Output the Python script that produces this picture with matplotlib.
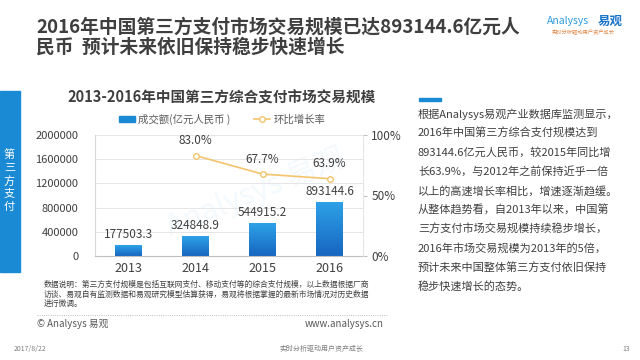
import numpy as np
import matplotlib
matplotlib.use("Agg")
import matplotlib.pyplot as plt
from matplotlib.patches import Rectangle, Patch
from matplotlib.lines import Line2D
from matplotlib.colors import LinearSegmentedColormap

plt.rcParams['font.family'] = ['Noto Sans CJK SC', 'DejaVu Sans']

# data
years = ['2013', '2014', '2015', '2016']
volume = [177503.3, 324848.9, 544915.2, 893144.6]      # 亿元人民币
growth = [None, 83.0, 67.7, 63.9]                      # %
left_ticks = [0, 400000, 800000, 1200000, 1600000, 2000000]
right_ticks = [0, 50, 100]

title_lines = ['2016年中国第三方支付市场交易规模已达893144.6亿元人',
               '民币  预计未来依旧保持稳步快速增长']
chart_title = '2013-2016年中国第三方综合支付市场交易规模'
legend_labels = ['成交额(亿元人民币 )', '环比增长率']
note_lines = ['数据说明：第三方支付规模是包括互联网支付、移动支付等的综合支付规模，以上数据根据厂商',
              '访谈、易观自有监测数据和易观研究模型估算获得，易观将根据掌握的最新市场情况对历史数据',
              '进行微调。']
side_text = ['根据Analysys易观产业数据库监测显示，',
             '2016年中国第三方综合支付规模达到',
             '893144.6亿元人民币，较2015年同比增',
             '长63.9%，与2012年之前保持近乎一倍',
             '以上的高速增长率相比，增速逐渐趋缓。',
             '从整体趋势看，自2013年以来，中国第',
             '三方支付市场交易规模持续稳步增长，',
             '2016年市场交易规模为2013年的5倍，',
             '预计未来中国整体第三方支付依旧保持',
             '稳步快速增长的态势。']
side_tab = '第三方支付'

W, H = 640, 360
BLUE = '#1a8ad4'
ORANGE = '#f3c46c'
DARK = '#404040'


def px(x, y):
    return x / W, 1 - y / H


fig = plt.figure(figsize=(6.4, 3.6), dpi=100)
fig.patch.set_facecolor('white')

# page title
for i, t in enumerate(title_lines):
    fig.text(*px(36, 27 + i * 20), t, fontsize=13.5, fontweight='bold',
             color='#3f3f3f', va='center', ha='left')

# logo
fig.text(*px(547, 21), 'Analysys', fontsize=7.5, color='#2b9be0',
         style='italic', va='center')
fig.text(*px(598, 21), '易观', fontsize=9, color='#1a74c8',
         fontweight='bold', va='center')
fig.text(*px(552, 31), '实时分析驱动用户资产成长', fontsize=3.8,
         color='#e0884a', va='center')

# left tab
fig.patches.append(Rectangle(px(0, 272), 20 / W, 181 / H,
                             transform=fig.transFigure, color=BLUE, zorder=0))
for i, ch in enumerate(side_tab):
    fig.text(*px(9.5, 155 + i * 13), ch, fontsize=8, color='white',
             ha='center', va='center')

# chart
ax = fig.add_axes([95 / W, 1 - 256 / H, 268 / W, 121 / H])
x = np.arange(len(years))
bars = ax.bar(x, volume, width=0.4, color=BLUE, zorder=2)
cmap = LinearSegmentedColormap.from_list('g', ['#1766c0', '#2ea2e8'])
grad = np.linspace(0, 1, 100).reshape(-1, 1)
for b in bars:
    bx, by = b.get_x(), b.get_y()
    im = ax.imshow(grad, extent=[bx, bx + b.get_width(), by, by + b.get_height()],
                   origin='lower', aspect='auto', cmap=cmap, zorder=2)
    im.set_clip_path(b)
ax.set_xlim(-0.5, len(years) - 0.5)
ax.set_ylim(0, 2000000)
ax.set_yticks(left_ticks)
ax.set_yticklabels([str(v) for v in left_ticks])
ax.set_xticks(x)
ax.set_xticklabels(years)
ax.tick_params(axis='y', length=0, labelsize=8, labelcolor=DARK, pad=12)
ax.tick_params(axis='x', length=0, labelsize=9, labelcolor=DARK, pad=4)
ax.grid(axis='y', color='#e6e6e6', lw=0.7, zorder=0)
for s in ['top', 'right']:
    ax.spines[s].set_visible(False)
ax.spines['left'].set_color('#d9d9d9')
ax.spines['bottom'].set_color('#bfbfbf')
for xi, v in zip(x, volume):
    ax.annotate(f'{v:.1f}', (xi, v), xytext=(0, 3), textcoords='offset points',
                ha='center', va='bottom', fontsize=8.5, color=DARK)

# faint watermark
ax.text(1.9, 1050000, 'Analysys 易观', fontsize=22, color='#2b9be0', alpha=0.06,
        rotation=22, ha='center', va='center', zorder=1)

ax2 = ax.twinx()
ax2.set_ylim(0, 100)
ax2.set_yticks(right_ticks)
ax2.set_yticklabels([f'{v}%' for v in right_ticks])
ax2.tick_params(axis='y', length=3, color='#bfbfbf', labelsize=8.5,
                labelcolor=DARK, pad=3)
for s in ['top', 'left', 'bottom']:
    ax2.spines[s].set_visible(False)
ax2.spines['right'].set_color('#e6e6e6')
gx = [xi for xi, g in zip(x, growth) if g is not None]
gy = [g for g in growth if g is not None]
ax2.plot(gx, gy, color=ORANGE, lw=1.2, marker='o', markersize=4,
         mfc='white', mec=ORANGE, mew=1, zorder=3)
for xi, g in zip(gx, gy):
    ax2.annotate(f'{g:.1f}%', (xi, g), xytext=(0, 6), textcoords='offset points',
                 ha='center', va='bottom', fontsize=8.5, color=DARK)

# chart title and legend
fig.text(*px(222, 97.5), chart_title, fontsize=10.5, fontweight='bold',
         color='#3f3f3f', ha='center', va='center')
handles = [Patch(color=BLUE),
           Line2D([], [], color=ORANGE, lw=1.2, marker='o', markersize=4,
                  mfc='white', mec=ORANGE)]
fig.legend(handles, legend_labels, loc='center', bbox_to_anchor=px(222, 119),
           ncol=2, frameon=False, fontsize=7.5, handlelength=1.6,
           handleheight=0.5, handletextpad=0.3, columnspacing=2.2,
           labelcolor='#595959')

# notes
for i, t in enumerate(note_lines):
    fig.text(*px(44, 285 + i * 9.5), t, fontsize=5.6, color=DARK, va='center')
fig.add_artist(Line2D([37 / W, 388 / W], [1 - 315 / H] * 2, color='#aaaaaa',
                      lw=0.6, ls=':'))
fig.text(*px(37, 324), '© Analysys 易观', fontsize=7, color='#595959', va='center')
fig.text(*px(384, 324), 'www.analysys.cn', fontsize=7, color='#595959',
         va='center', ha='right')

# side text
fig.patches.append(Rectangle(px(419, 100.5), 22 / W, 3 / H,
                             transform=fig.transFigure, color=BLUE))
for i, t in enumerate(side_text):
    fig.text(*px(418, 114 + i * 19.2), t, fontsize=8, color=DARK, va='center')

# footer
fig.text(*px(14, 349), '2017/8/22', fontsize=5, color='#7f7f7f', va='center')
fig.text(*px(322, 349), '实时分析驱动用户资产成长', fontsize=5, color='#7f7f7f',
         va='center', ha='center')
fig.text(*px(626, 349), '13', fontsize=5, color='#7f7f7f', va='center', ha='center')

fig.savefig('out.png', dpi=100)
